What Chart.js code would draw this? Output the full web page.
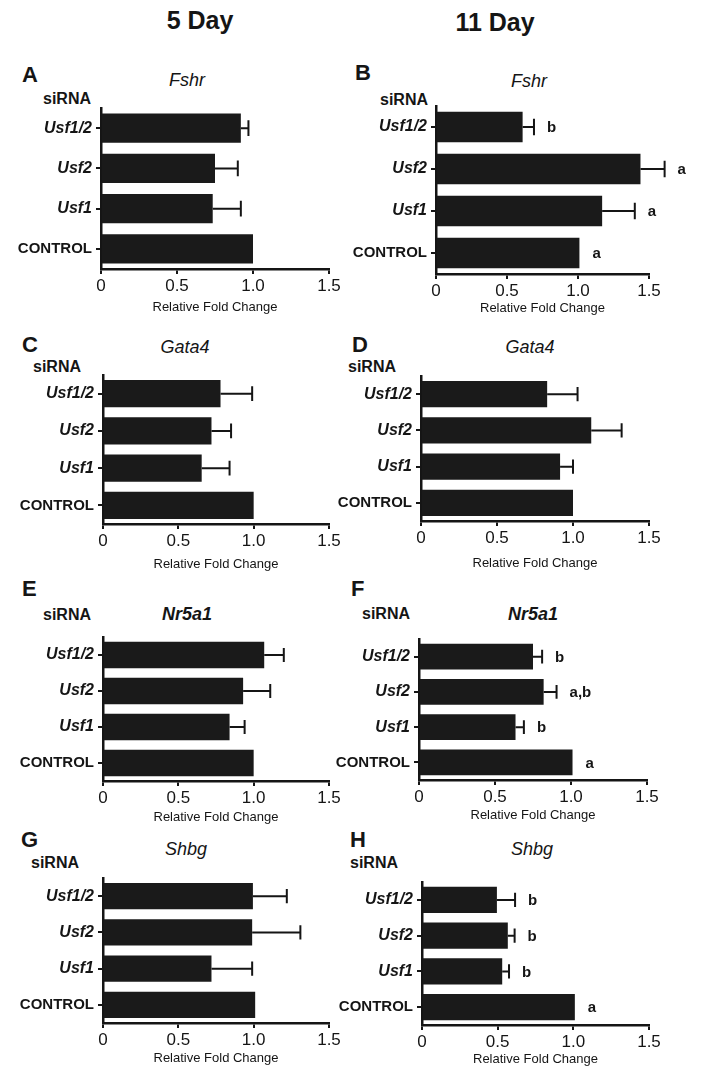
<!DOCTYPE html>
<html>
<head>
<meta charset="utf-8">
<script src="https://cdn.jsdelivr.net/npm/chart.js@4.4.0/dist/chart.umd.min.js"></script>
<style>
  body { margin: 0; background: #fff; }
  #page { position: relative; width: 701px; height: 1070px; overflow: hidden; font-family: "Liberation Sans", Arial, sans-serif; color: #151515; }
  canvas { position: absolute; }
  .t { position: absolute; white-space: nowrap; line-height: 1; transform: translate(-50%, -50%); }
  .l { position: absolute; white-space: nowrap; line-height: 1; transform: translate(0, -50%); }
  .head { font-weight: bold; font-size: 25px; }
  .pl { font-weight: bold; font-size: 22px; }
  .gene { font-style: italic; font-size: 18px; }
  .sirna { font-weight: bold; font-size: 16px; }
</style>
</head>
<body>
<div id="page">
  <div class="t head" style="left:200px;top:20px">5 Day</div>
  <div class="t head" style="left:495px;top:22px">11 Day</div>

  <div class="l pl" style="left:22px;top:75px">A</div>
  <div class="t gene" style="left:187px;top:80px">Fshr</div>
  <div class="l sirna" style="left:43px;top:99px">siRNA</div>

  <div class="l pl" style="left:355px;top:73px">B</div>
  <div class="t gene" style="left:529px;top:81px">Fshr</div>
  <div class="l sirna" style="left:380px;top:100px">siRNA</div>

  <div class="l pl" style="left:22px;top:345px">C</div>
  <div class="t gene" style="left:185px;top:347px">Gata4</div>
  <div class="l sirna" style="left:33px;top:367px">siRNA</div>

  <div class="l pl" style="left:352px;top:345px">D</div>
  <div class="t gene" style="left:530px;top:347px">Gata4</div>
  <div class="l sirna" style="left:348px;top:367px">siRNA</div>

  <div class="l pl" style="left:22px;top:589px">E</div>
  <div class="t gene" style="left:187px;top:614px;font-weight:bold">Nr5a1</div>
  <div class="l sirna" style="left:43px;top:615px">siRNA</div>

  <div class="l pl" style="left:351px;top:589px">F</div>
  <div class="t gene" style="left:533px;top:614px;font-weight:bold">Nr5a1</div>
  <div class="l sirna" style="left:362px;top:614px">siRNA</div>

  <div class="l pl" style="left:21px;top:840px">G</div>
  <div class="t gene" style="left:186px;top:849px">Shbg</div>
  <div class="l sirna" style="left:31px;top:863px">siRNA</div>

  <div class="l pl" style="left:350px;top:840px">H</div>
  <div class="t gene" style="left:532px;top:849px">Shbg</div>
  <div class="l sirna" style="left:350px;top:863px">siRNA</div>
</div>

<script>
// categories (top to bottom) and x tick labels
const categories = ['Usf1/2', 'Usf2', 'Usf1', 'CONTROL'];
const xTickLabels = ['0', '0.5', '1.0', '1.5'];

// Fshr
const fshr5Mean = [0.92, 0.75, 0.735, 1.0];
const fshr5Err = [0.05, 0.15, 0.185, 0];
const fshr11Mean = [0.61, 1.44, 1.17, 1.01];
const fshr11Err = [0.08, 0.17, 0.23, 0];
const fshr11Letters = ['b', 'a', 'a', 'a'];

// Gata4
const gata5Mean = [0.78, 0.72, 0.655, 1.0];
const gata5Err = [0.21, 0.13, 0.185, 0];
const gata11Mean = [0.83, 1.12, 0.915, 1.0];
const gata11Err = [0.2, 0.2, 0.085, 0];

// Nr5a1
const nr5Mean = [1.07, 0.93, 0.84, 1.0];
const nr5Err = [0.13, 0.18, 0.1, 0];
const nr11Mean = [0.75, 0.82, 0.635, 1.01];
const nr11Err = [0.06, 0.085, 0.055, 0];
const nr11Letters = ['b', 'a,b', 'b', 'a'];

// Shbg
const shbg5Mean = [0.995, 0.99, 0.72, 1.01];
const shbg5Err = [0.225, 0.32, 0.27, 0];
const shbg11Mean = [0.495, 0.567, 0.53, 1.01];
const shbg11Err = [0.12, 0.045, 0.045, 0];
const shbg11Letters = ['b', 'b', 'b', 'a'];

const FONT = '"Liberation Sans", Arial, sans-serif';
const INK = '#151515';

// draws the one-sided error bars and the significance letters
const errorBars = {
    id: 'errorBars',
    afterDatasetsDraw(chart, args, opts) {
        const ctx = chart.ctx;
        const xs = chart.scales.x;
        const ys = chart.scales.y;
        const meta = chart.getDatasetMeta(0);
        const values = chart.data.datasets[0].data;
        ctx.save();
        ctx.strokeStyle = INK;
        ctx.fillStyle = INK;
        ctx.lineWidth = 2;
        values.forEach((v, i) => {
            const e = opts.errors[i];
            const yc = ys.getPixelForValue(i);
            const half = meta.data[i].height * 0.27;
            const x1 = xs.getPixelForValue(v);
            const x2 = xs.getPixelForValue(v + e);
            if (e > 0) {
                ctx.beginPath();
                ctx.moveTo(x1, yc);
                ctx.lineTo(x2, yc);
                ctx.moveTo(x2, yc - half);
                ctx.lineTo(x2, yc + half);
                ctx.stroke();
            }
            if (opts.letters) {
                ctx.font = 'bold 15px ' + FONT;
                ctx.textAlign = 'left';
                ctx.textBaseline = 'middle';
                ctx.fillText(opts.letters[i], x2 + 13, yc + 1);
            }
        });
        ctx.restore();
    }
};

// panel placement on the page
const panels = [
    { col: 0, top: 101, bottom: 269, x0: 101, x15: 329, titleY: 307, mean: fshr5Mean, err: fshr5Err },
    { col: 1, top: 99, bottom: 274, x0: 436, x15: 649, titleY: 308, mean: fshr11Mean, err: fshr11Err, letters: fshr11Letters },
    { col: 0, top: 368, bottom: 524, x0: 103, x15: 329, titleY: 564, mean: gata5Mean, err: gata5Err },
    { col: 1, top: 369, bottom: 521, x0: 421, x15: 649, titleY: 563, mean: gata11Mean, err: gata11Err },
    { col: 0, top: 630, bottom: 781, x0: 103, x15: 329, titleY: 817, mean: nr5Mean, err: nr5Err },
    { col: 1, top: 632, bottom: 780, x0: 419, x15: 647, titleY: 815, mean: nr11Mean, err: nr11Err, letters: nr11Letters },
    { col: 0, top: 871, bottom: 1023, x0: 103, x15: 329, titleY: 1058, mean: shbg5Mean, err: shbg5Err },
    { col: 1, top: 875, bottom: 1025, x0: 422, x15: 649, titleY: 1059, mean: shbg11Mean, err: shbg11Err, letters: shbg11Letters }
];

const page = document.getElementById('page');

panels.forEach(function (p) {
    const left = p.col === 0 ? 0 : 335;
    const width = p.col === 0 ? 345 : 366;
    const padTop = 6;
    const cTop = p.top - padTop;
    const cBottom = p.titleY + 8;
    const canvas = document.createElement('canvas');
    canvas.width = width;
    canvas.height = cBottom - cTop;
    canvas.style.left = left + 'px';
    canvas.style.top = cTop + 'px';
    page.appendChild(canvas);

    new Chart(canvas.getContext('2d'), {
        type: 'bar',
        data: {
            labels: categories,
            datasets: [{
                data: p.mean,
                backgroundColor: '#1a1a1a',
                borderWidth: 0,
                barPercentage: 0.73,
                categoryPercentage: 1
            }]
        },
        options: {
            indexAxis: 'y',
            responsive: false,
            animation: false,
            devicePixelRatio: 1,
            layout: { padding: { top: padTop, right: left + width - p.x15, bottom: 0, left: 0 } },
            plugins: {
                legend: { display: false },
                tooltip: { enabled: false },
                errorBars: { errors: p.err, letters: p.letters }
            },
            scales: {
                x: {
                    type: 'linear',
                    min: 0,
                    max: 1.5,
                    afterFit: function (s) { s.height = cBottom - p.bottom; },
                    ticks: {
                        stepSize: 0.5,
                        color: INK,
                        padding: 2,
                        font: { family: FONT, size: 17 },
                        callback: function (v, i) { return xTickLabels[i]; }
                    },
                    grid: { drawOnChartArea: false, color: INK, lineWidth: 2, tickLength: 5 },
                    border: { color: INK, width: 2.5 },
                    title: {
                        display: true,
                        text: 'Relative Fold Change',
                        color: INK,
                        padding: { top: 0, bottom: 0 },
                        font: { family: FONT, size: 13 }
                    }
                },
                y: {
                    afterFit: function (s) { s.width = p.x0 - left; },
                    ticks: {
                        color: INK,
                        padding: 4,
                        autoSkip: false,
                        font: function (c) {
                            return c.index === 3
                                ? { family: FONT, size: 15, weight: 'bold', style: 'normal' }
                                : { family: FONT, size: 16, weight: 'bold', style: 'italic' };
                        }
                    },
                    grid: { drawOnChartArea: false, offset: false, color: INK, lineWidth: 2, tickLength: 5 },
                    border: { color: INK, width: 2.5 }
                }
            }
        },
        plugins: [errorBars]
    });
});
</script>
</body>
</html>
